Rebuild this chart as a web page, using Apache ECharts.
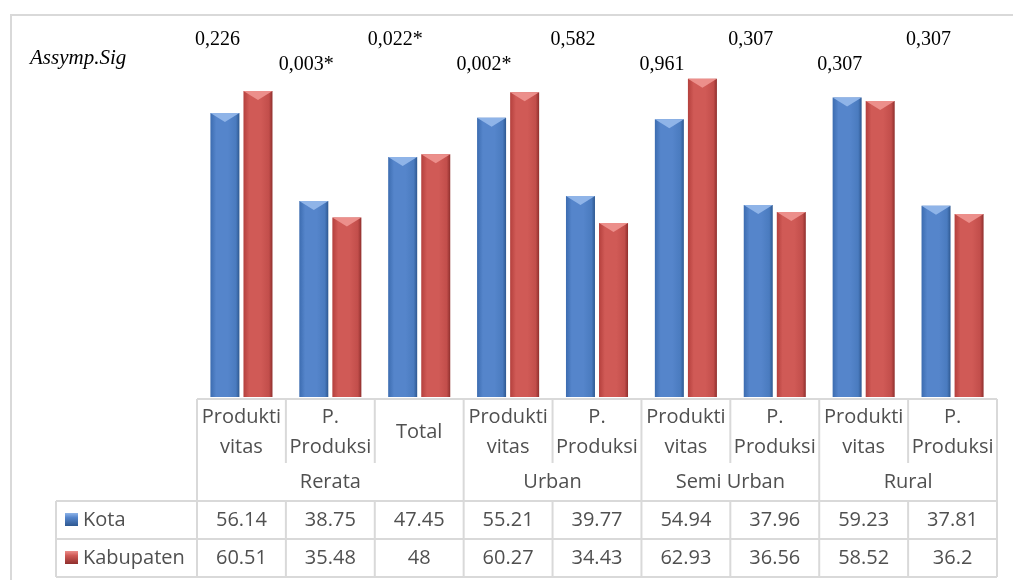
<!DOCTYPE html>
<html>
<head>
<meta charset="utf-8">
<title>Kota vs Kabupaten</title>
<script src="https://cdn.jsdelivr.net/npm/echarts@6/dist/echarts.min.js"></script>
<style>
	html, body { margin: 0; padding: 0; background: #fff; }
	#chart { width: 1013px; height: 580px; }
</style>
</head>
<body>
<div id="chart"></div>
<script>
// data
var categories = ['Produkti\nvitas', 'P.\nProduksi', 'Total', 'Produkti\nvitas', 'P.\nProduksi',
	'Produkti\nvitas', 'P.\nProduksi', 'Produkti\nvitas', 'P.\nProduksi'];
var groups = ['Rerata', 'Urban', 'Semi Urban', 'Rural'];
var groupSizes = [3, 2, 2, 2];
var kota = [56.14, 38.75, 47.45, 55.21, 39.77, 54.94, 37.96, 59.23, 37.81];
var kabupaten = [60.51, 35.48, 48, 60.27, 34.43, 62.93, 36.56, 58.52, 36.2];
var sigLabels = ['0,226', '0,003*', '0,022*', '0,002*', '0,582', '0,961', '0,307', '0,307', '0,307'];
var seriesNames = ['Kota', 'Kabupaten'];

var txtColor = '#505050';
var lineColor = '#d9d9d9';
var tableFont = '"Open Sans", sans-serif';

function barGrad(c) {
	return new echarts.graphic.LinearGradient(0, 0, 1, 0, [
		{ offset: 0, color: c[0] },
		{ offset: 0.2, color: c[1] },
		{ offset: 0.6, color: c[1] },
		{ offset: 0.88, color: c[2] },
		{ offset: 1, color: c[3] }
	]);
}
var blue = ['#3c6cb0', '#5585cb', '#4a7bbf', '#2e5890'];
var red = ['#b4403d', '#d05a56', '#c24e4b', '#8f2f2d'];
var bevel = 'path://M0,0L20,0L10,6Z';

var myChart = echarts.init(document.getElementById('chart'));

var option = {
	animation: false,
	grid: { left: 197, right: 16, top: 43, bottom: 183 },
	xAxis: {
		type: 'category',
		data: categories,
		axisLine: { show: false },
		axisTick: { show: false },
		axisLabel: { show: false }
	},
	yAxis: {
		type: 'value',
		min: 0,
		max: 70,
		show: false,
		splitLine: { show: false }
	},
	series: [
		{
			name: seriesNames[0], type: 'bar', data: kota, barWidth: 29, barGap: '14%',
			itemStyle: { color: barGrad(blue), shadowColor: 'rgba(0,0,0,0.35)', shadowBlur: 4, shadowOffsetX: 2, shadowOffsetY: 1 }
		},
		{
			name: seriesNames[1], type: 'bar', data: kabupaten, barWidth: 29, barGap: '14%',
			itemStyle: { color: barGrad(red), shadowColor: 'rgba(0,0,0,0.35)', shadowBlur: 4, shadowOffsetX: 2, shadowOffsetY: 1 }
		},
		{
			type: 'pictorialBar', data: kota, barWidth: 29, barGap: '14%', silent: true, z: 5,
			symbol: bevel, symbolSize: [29, 9], symbolPosition: 'end',
			itemStyle: { color: '#8fb4e8' }
		},
		{
			type: 'pictorialBar', data: kabupaten, barWidth: 29, barGap: '14%', silent: true, z: 5,
			symbol: bevel, symbolSize: [29, 9], symbolPosition: 'end',
			itemStyle: { color: '#ec8f8b' }
		}
	]
};
myChart.setOption(option);

// table + annotations built from the axis positions
var centers = categories.map(function (c, i) {
	return myChart.convertToPixel({ xAxisIndex: 0 }, i);
});
var band = centers[1] - centers[0];
var edges = centers.map(function (c) { return c - band / 2; });
edges.push(centers[centers.length - 1] + band / 2);

var yTop = 399, yGroup = 463, yRow1 = 501, yRow2 = 539, yBot = 577, legLeft = 56;
var g = [];

function line(x1, y1, x2, y2) {
	g.push({ type: 'line', shape: { x1: x1, y1: y1, x2: x2, y2: y2 }, style: { stroke: lineColor, lineWidth: 2 }, silent: true });
}
function text(str, x, y, opt) {
	var st = {
		text: str, x: x, y: y, align: 'center', verticalAlign: 'middle',
		fill: txtColor, font: '20px ' + tableFont, lineHeight: 30
	};
	for (var k in opt) st[k] = opt[k];
	g.push({ type: 'text', style: st, silent: true, z: 10 });
}

// outer frame
g.push({ type: 'rect', shape: { x: 11, y: 15, width: 1100, height: 700 }, style: { fill: 'none', stroke: lineColor, lineWidth: 2 }, silent: true });

// horizontal lines
line(edges[0], yTop, edges[edges.length - 1], yTop);
line(legLeft, yRow1, edges[edges.length - 1], yRow1);
line(legLeft, yRow2, edges[edges.length - 1], yRow2);
line(legLeft, yBot, edges[edges.length - 1], yBot);
line(legLeft, yRow1, legLeft, yBot);

// vertical lines
var groupEdges = [0];
groupSizes.reduce(function (a, n) { groupEdges.push(a + n); return a + n; }, 0);
edges.forEach(function (x, i) {
	if (groupEdges.indexOf(i) >= 0) {
		line(x, yTop, x, yBot);
	} else {
		line(x, yTop, x, yGroup);
		line(x, yRow1, x, yBot);
	}
});

// category labels
categories.forEach(function (c, i) {
	text(c, centers[i], (yTop + yGroup) / 2 + 1);
	text(String(kota[i]), centers[i], (yRow1 + yRow2) / 2);
	text(String(kabupaten[i]), centers[i], (yRow2 + yBot) / 2);
});
// group labels
groups.forEach(function (name, j) {
	var x0 = edges[groupEdges[j]], x1 = edges[groupEdges[j + 1]];
	text(name, (x0 + x1) / 2, (yGroup + yRow1) / 2);
});

// legend keys inside the table
[blue, red].forEach(function (c, k) {
	var yc = k === 0 ? (yRow1 + yRow2) / 2 : (yRow2 + yBot) / 2;
	g.push({
		type: 'rect', shape: { x: 65, y: yc - 7, width: 13, height: 13 },
		style: {
			fill: new echarts.graphic.LinearGradient(0, 0, 0, 1, [
				{ offset: 0, color: k === 0 ? '#8fb4e8' : '#ec8f8b' },
				{ offset: 0.35, color: c[1] },
				{ offset: 1, color: c[3] }
			])
		}, silent: true
	});
	text(seriesNames[k], 83, yc, { align: 'left' });
});

// significance annotations
text('Assymp.Sig', 30, 58, { align: 'left', fill: '#000', font: 'italic 21px "Liberation Serif", serif' });
sigLabels.forEach(function (s, i) {
	text(s, centers[i] - 24, i % 2 === 0 ? 40 : 65, { fill: '#000', font: '20px "Liberation Serif", serif' });
});

myChart.setOption({ graphic: g });
</script>
</body>
</html>
